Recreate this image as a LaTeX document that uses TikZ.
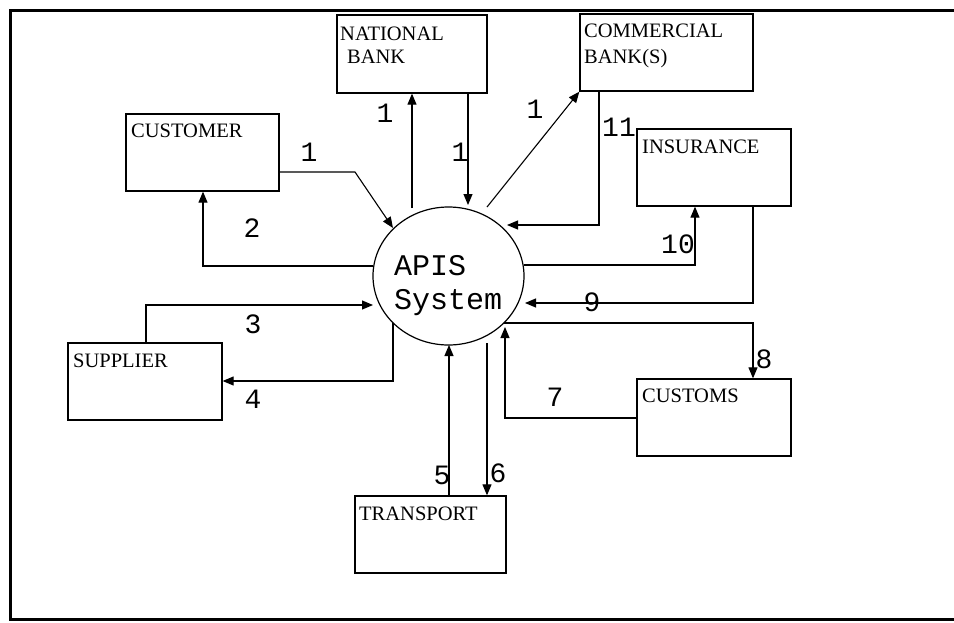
\documentclass[tikz,border=0pt]{standalone}
\usepackage{fontspec}
\setmainfont{Liberation Serif}
\newfontfamily\monofont{Liberation Mono}
\usetikzlibrary{arrows.meta,shapes.geometric}
\begin{document}
\begin{tikzpicture}[x=1pt,y=-1pt,
  ent/.style={draw,line width=1.3pt,rectangle,inner sep=0pt,minimum width=#1},
  lbl/.style={anchor=base west,inner sep=0pt,font=\fontsize{20.5}{23}\selectfont},
  num/.style={inner sep=0pt,font=\monofont\fontsize{28}{30}\selectfont},
  flow/.style={line width=1.1pt,-{Triangle[length=11pt,width=9pt]}},
  plain/.style={line width=1.1pt}]
\useasboundingbox (0,0) rectangle (954,622);
\draw[line width=3pt] (954,10) -- (10,10) -- (10,619) -- (954,619);
% entities
\node[ent=150pt,minimum height=78pt] (nb) at (412,54) {};
\node[ent=173pt,minimum height=77pt] (cb) at (666.5,52.5) {};
\node[ent=153pt,minimum height=77pt] (cust) at (202.5,152.5) {};
\node[ent=154pt,minimum height=77pt] (ins) at (714,167.5) {};
\node[ent=154pt,minimum height=77pt] (sup) at (145,381.5) {};
\node[ent=154pt,minimum height=77pt] (cus) at (714,417.5) {};
\node[ent=151pt,minimum height=77pt] (tr) at (430.5,534.5) {};
\node[draw,ellipse,line width=1.2pt,minimum width=151pt,minimum height=138pt,inner sep=0pt] (sys) at (448.5,276) {};
% labels
\node[lbl] (t1) at (340,40) {NATIONAL};
\node[lbl] (t2) at (347,63) {BANK};
\node[lbl] (t3) at (584,37) {COMMERCIAL};
\node[lbl] (t4) at (584,63) {BANK(S)};
\node[lbl] (t5) at (131,137) {CUSTOMER};
\node[lbl] (t6) at (642,153) {INSURANCE};
\node[lbl] (t7) at (73,367) {SUPPLIER};
\node[lbl] (t8) at (642,402) {CUSTOMS};
\node[lbl] (t9) at (359,520) {TRANSPORT};
\node[anchor=base west,inner sep=0pt,font=\monofont\fontsize{30}{34}\selectfont] (s1) at (394,275) {APIS};
\node[anchor=base west,inner sep=0pt,font=\monofont\fontsize{30}{34}\selectfont] (s2) at (394,309) {System};
% contact coordinates
\coordinate (pC1) at (393,228);
\coordinate (pC2) at (373,266);
\coordinate (pNBu) at (412,208);
\coordinate (pNBd) at (468,205);
\coordinate (pCB) at (487,207);
\coordinate (p11) at (507,225);
\coordinate (p10) at (524,265);
\coordinate (p9) at (525,303);
\coordinate (p8) at (504,323);
\coordinate (p7) at (505,327);
\coordinate (p5) at (449,345);
\coordinate (p6) at (487,343);
\coordinate (p3) at (373,305);
\coordinate (p4) at (393,323);
% connectors
\draw[flow] (cust.east |- 0,172) -- (355,172) -- (pC1);
\draw[flow] (pC2) -- (203,266) -- (203,0 |- cust.south);
\draw[flow] (pNBu) -- (pNBu |- nb.south);
\draw[flow] (468,0 |- nb.south) -- (pNBd);
\draw[flow] (pCB) -- (cb.south west);
\draw[flow] (599,0 |- cb.south) -- (599,225) -- (p11);
\draw[flow] (p10) -- (695,265) -- (695,0 |- ins.south);
\draw[flow] (753,0 |- ins.south) -- (753,303) -- (p9);
\draw[flow] (p8) -- (753,323) -- (753,0 |- cus.north);
\draw[flow] (cus.west |- 0,418) -- (505,418) -- (p7);
\draw[flow] (449,0 |- tr.north) -- (p5);
\draw[flow] (p6) -- (487,0 |- tr.north);
\draw[flow] (146,0 |- sup.north) -- (146,305) -- (p3);
\draw[flow] (p4) -- (393,381) -- (sup.east |- 0,381);
% numbers
\node[num] (n1a) at (309,152) {1};
\node[num] (n2) at (252,228) {2};
\node[num] (n1b) at (385,113) {1};
\node[num] (n1c) at (460,152) {1};
\node[num] (n1d) at (535,109) {1};
\node[num] (n11) at (619,127) {11};
\node[num] (n10) at (678,244) {10};
\node[num] (n9) at (592,302) {9};
\node[num] (n8) at (764,359) {8};
\node[num] (n7) at (555,397) {7};
\node[num] (n5) at (442,475) {5};
\node[num] (n6) at (498,473) {6};
\node[num] (n3) at (253,324) {3};
\node[num] (n4) at (253,399) {4};
\end{tikzpicture}
\end{document}
